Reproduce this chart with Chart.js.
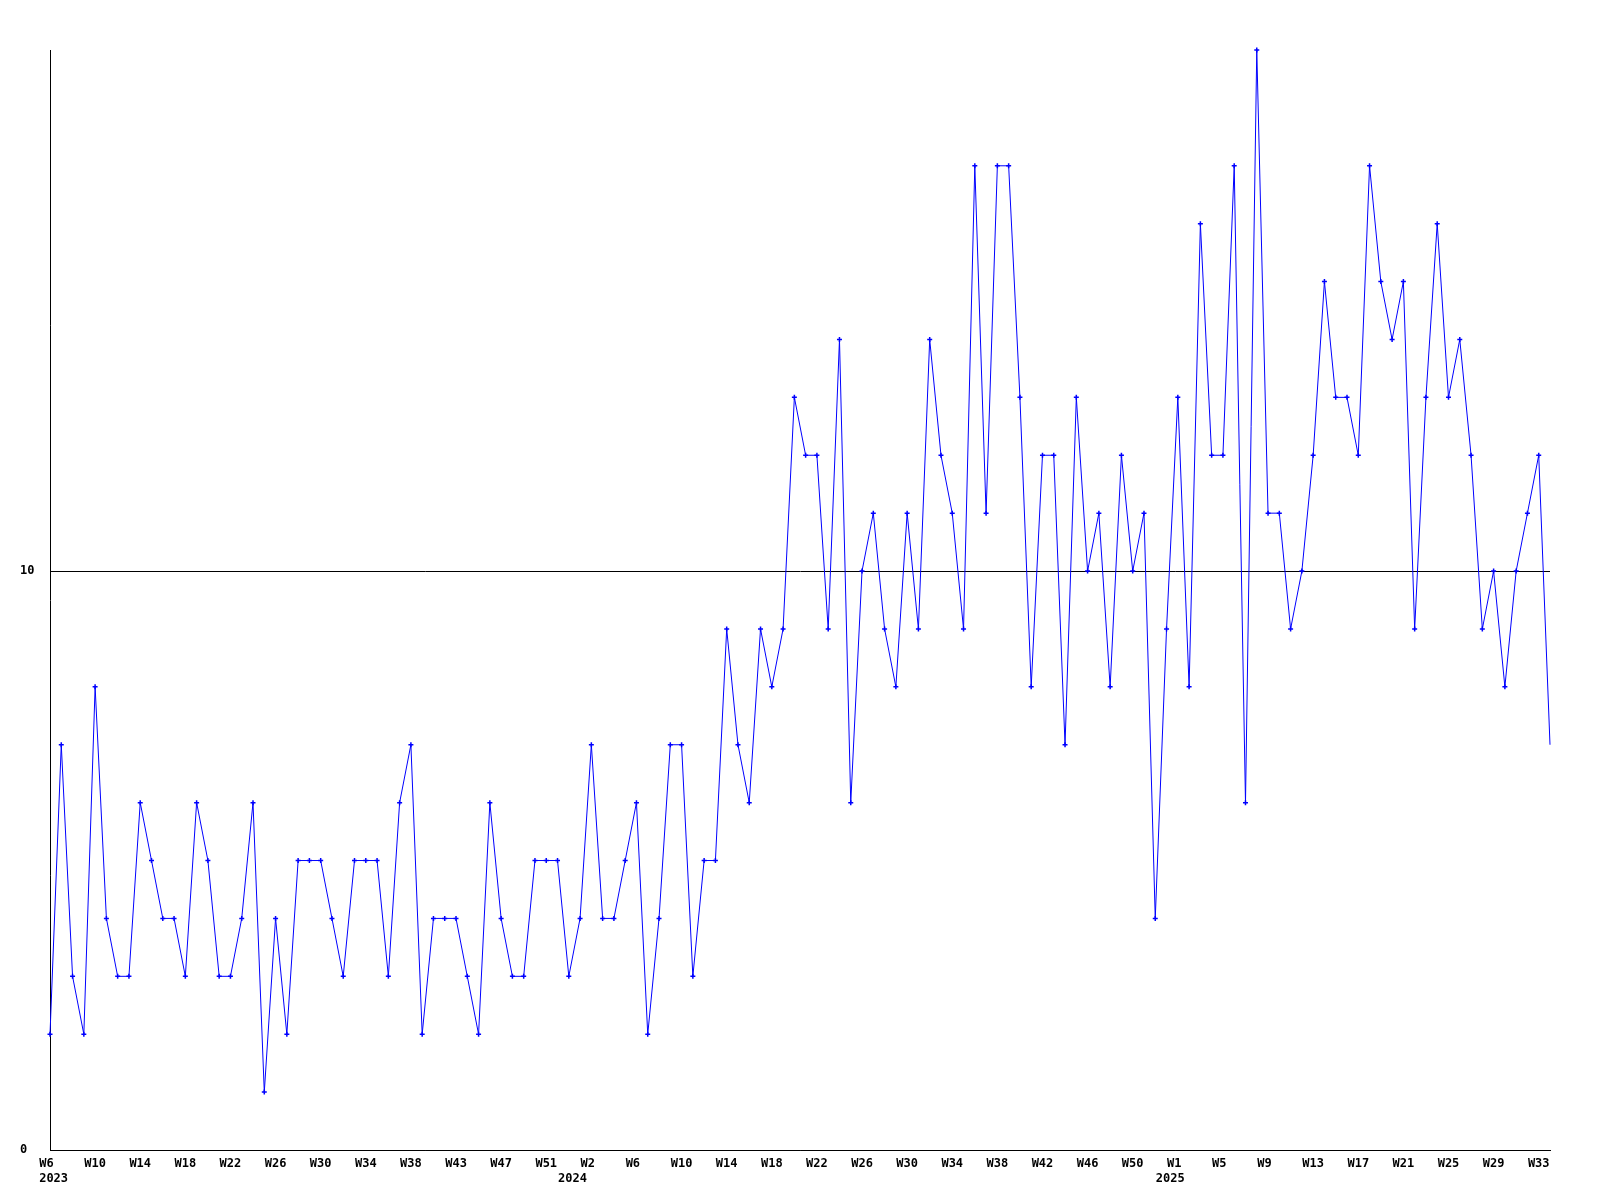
<!DOCTYPE html>
<html>
<head>
<meta charset="utf-8">
<title>Weekly count</title>
<script src="https://cdn.jsdelivr.net/npm/chart.js@4.4.1/dist/chart.umd.min.js"></script>
<style>
  html, body { margin: 0; padding: 0; background: #fff; }
  canvas { display: block; }
</style>
</head>
<body>
<canvas id="chart" width="1600" height="1200"></canvas>
<script>
// one value per week, 2023 W6 .. 2025 W35
var values = [
  2, 7, 3, 2, 8, 4, 3, 3, 6, 5, 4, 4, 3, 6, 5, 3, 3, 4, 6, 1, 4, 2, 5, 5, 5, 4,
  3, 5, 5, 5, 3, 6, 7, 2, 4, 4, 4, 3, 2, 6, 4, 3, 3, 5, 5, 5, 3, 4, 7, 4, 4, 5,
  6, 2, 4, 7, 7, 3, 5, 5, 9, 7, 6, 9, 8, 9, 13, 12, 12, 9, 14, 6, 10, 11, 9, 8, 11, 9,
  14, 12, 11, 9, 17, 11, 17, 17, 13, 8, 12, 12, 7, 13, 10, 11, 8, 12, 10, 11, 4, 9, 13, 8, 16, 12, 12, 17,
  6, 19, 11, 11, 9, 10, 12, 15, 13, 13, 12, 17, 15, 14, 15, 9, 13, 16, 13, 14, 12, 9, 10, 8, 10, 11, 12, 7
];

// weeks covered by the series
var years = [2023, 2024, 2025];
var firstWeek = [6, 1, 1];
var lastWeek = [52, 52, 35];

// axis text, as printed on the original (one week label every 4th point)
var weekTicks = [
  'W6', 'W10', 'W14', 'W18', 'W22', 'W26', 'W30', 'W34', 'W38', 'W43', 'W47', 'W51',
  'W2', 'W6', 'W10', 'W14', 'W18', 'W22', 'W26', 'W30', 'W34', 'W38', 'W42', 'W46', 'W50',
  'W1', 'W5', 'W9', 'W13', 'W17', 'W21', 'W25', 'W29', 'W33'
];
var yearTicks = ['2023', '2024', '2025'];
var yearAt = [0, 46, 99];   // point under which each year is printed
var yTicks = [0, 10];
var yMax = 19;

var weeks = [];
for (var k = 0; k < years.length; k++) {
    for (var w = firstWeek[k]; w <= lastWeek[k]; w++) {
        weeks.push(years[k] + '-W' + w);
    }
}

var axisFont = { family: 'DejaVu Sans Mono', weight: 'bold', size: 12 };

function xLabel(val, i) {
    var week = (i % 4 === 0) ? weekTicks[i / 4] : undefined;
    var y = yearAt.indexOf(i);
    if (week === undefined && y < 0) return null;
    var lines = [week === undefined ? '' : week.padEnd(3)];
    if (y >= 0) lines.push(' ' + yearTicks[y]);
    return lines;
}

var ctx = document.getElementById('chart').getContext('2d');
var chart = new Chart(ctx, {
    type: 'line',
    data: {
        labels: weeks,
        datasets: [{
            data: values,
            borderColor: '#0000ff',
            borderWidth: 1,
            tension: 0,
            fill: false,
            clip: false,
            pointStyle: 'cross',
            pointRadius: function (c) { return c.dataIndex === values.length - 1 ? 0 : 2.5; },
            pointBorderColor: '#0000ff',
            pointBorderWidth: 1.5
        }]
    },
    options: {
        responsive: false,
        animation: false,
        devicePixelRatio: 1,
        layout: { padding: { left: 20, right: 50, top: 50, bottom: 10 } },
        plugins: {
            legend: { display: false },
            tooltip: { enabled: false }
        },
        scales: {
            x: {
                type: 'category',
                offset: false,
                grid: { display: false },
                border: { display: true, color: '#000', width: 1 },
                ticks: {
                    autoSkip: false,
                    maxRotation: 0,
                    minRotation: 0,
                    padding: -1,
                    color: '#000',
                    font: axisFont,
                    callback: xLabel
                },
                afterFit: function (s) { s.height = 40; }
            },
            y: {
                min: 0,
                max: yMax,
                afterBuildTicks: function (s) {
                    s.ticks = yTicks.map(function (v) { return { value: v }; });
                },
                grid: { color: '#000', lineWidth: 1, drawTicks: false },
                border: { display: true, color: '#000', width: 1 },
                ticks: {
                    crossAlign: 'far',
                    padding: 0,
                    color: '#000',
                    font: axisFont
                },
                afterFit: function (s) { s.width = 30; }
            }
        }
    }
});
</script>
</body>
</html>
